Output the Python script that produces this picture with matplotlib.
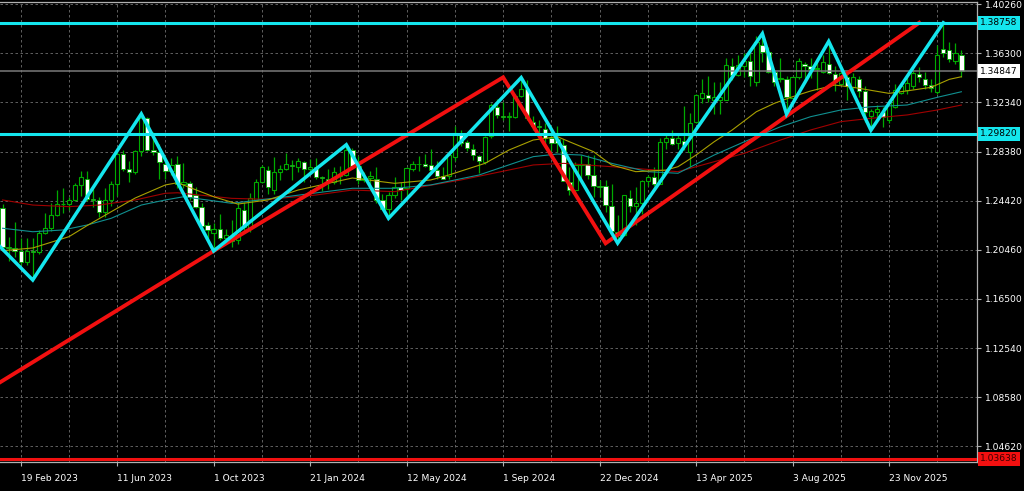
import numpy as np
import matplotlib
matplotlib.use("Agg")
import matplotlib.pyplot as plt

# weekly GBPUSD candles, 29 Jan 2023 .. 15 Feb 2026
opens = [1.2382, 1.2068, 1.2058, 1.2040, 1.1947, 1.2035, 1.2030, 1.2180, 1.2220, 1.2330,
         1.2415, 1.2418, 1.2450, 1.2570, 1.2620, 1.2455, 1.2445, 1.2350, 1.2445, 1.2580,
         1.2815, 1.2700, 1.2670, 1.2840, 1.3110, 1.2850, 1.2835, 1.2740, 1.2685, 1.2740,
         1.2578, 1.2585, 1.2490, 1.2390, 1.2246, 1.2180, 1.2210, 1.2140, 1.2160, 1.2125,
         1.2370, 1.2220, 1.2450, 1.2590, 1.2690, 1.2530, 1.2670, 1.2700, 1.2730, 1.2710,
         1.2750, 1.2700, 1.2710, 1.2635, 1.2620, 1.2595, 1.2640, 1.2650, 1.2850, 1.2720,
         1.2610, 1.2625, 1.2620, 1.2450, 1.2376, 1.2490, 1.2550, 1.2545, 1.2700, 1.2740,
         1.2740, 1.2730, 1.2690, 1.2640, 1.2640, 1.2794, 1.2980, 1.2915, 1.2858, 1.2803,
         1.2757, 1.2960, 1.3200, 1.3125, 1.3119, 1.3119, 1.3288, 1.3339, 1.3078, 1.3046,
         1.3017, 1.2950, 1.2940, 1.2893, 1.2595, 1.2530, 1.2728, 1.2737, 1.2649, 1.2563,
         1.2563, 1.2402, 1.2192, 1.2165, 1.2466, 1.2402, 1.2420, 1.2604, 1.2630, 1.2580,
         1.2918, 1.2947, 1.2910, 1.2925, 1.2837, 1.3078, 1.3270, 1.3290, 1.3250, 1.3255,
         1.3253, 1.3525, 1.3458, 1.3525, 1.3566, 1.3400, 1.3697, 1.3643, 1.3482, 1.3420,
         1.3420, 1.3267, 1.3441, 1.3540, 1.3525, 1.3501, 1.3482, 1.3544, 1.3460, 1.3386,
         1.3438, 1.3358, 1.3424, 1.3323, 1.3125, 1.3155, 1.3158, 1.3092, 1.3199, 1.3312,
         1.3334, 1.3366, 1.3460, 1.3425, 1.3371, 1.3318, 1.3661, 1.3656, 1.3567, 1.3613]
highs = [1.2418, 1.2150, 1.2270, 1.2145, 1.2140, 1.2145, 1.2205, 1.2343, 1.2424, 1.2525,
         1.2545, 1.2475, 1.2585, 1.2680, 1.2680, 1.2540, 1.2470, 1.2545, 1.2600, 1.2848,
         1.2848, 1.2760, 1.2850, 1.3142, 1.3120, 1.2995, 1.2895, 1.2800, 1.2790, 1.2800,
         1.2745, 1.2600, 1.2550, 1.2425, 1.2270, 1.2260, 1.2337, 1.2215, 1.2290, 1.2430,
         1.2430, 1.2505, 1.2615, 1.2733, 1.2720, 1.2793, 1.2730, 1.2827, 1.2770, 1.2785,
         1.2765, 1.2775, 1.2785, 1.2645, 1.2700, 1.2710, 1.2720, 1.2893, 1.2865, 1.2805,
         1.2670, 1.2680, 1.2710, 1.2500, 1.2510, 1.2635, 1.2595, 1.2710, 1.2760, 1.2800,
         1.2818, 1.2860, 1.2760, 1.2710, 1.2820, 1.3045, 1.3010, 1.2935, 1.2900, 1.2810,
         1.2960, 1.3230, 1.3265, 1.3240, 1.3160, 1.3300, 1.3434, 1.3415, 1.3125, 1.3095,
         1.3070, 1.3045, 1.3045, 1.2940, 1.2715, 1.2750, 1.2810, 1.2810, 1.2810, 1.2605,
         1.2605, 1.2575, 1.2325, 1.2490, 1.2525, 1.2550, 1.2610, 1.2650, 1.2715, 1.2945,
         1.2990, 1.3015, 1.2990, 1.3205, 1.3150, 1.3300, 1.3425, 1.3445, 1.3400, 1.3400,
         1.3595, 1.3595, 1.3615, 1.3630, 1.3630, 1.3770, 1.3789, 1.3680, 1.3495, 1.3590,
         1.3450, 1.3445, 1.3595, 1.3560, 1.3595, 1.3595, 1.3615, 1.3726, 1.3525, 1.3490,
         1.3470, 1.3470, 1.3445, 1.3370, 1.3180, 1.3215, 1.3200, 1.3265, 1.3385, 1.3400,
         1.3455, 1.3500, 1.3520, 1.3480, 1.3420, 1.3700, 1.38758, 1.3723, 1.3713, 1.3660]
lows = [1.2050, 1.1960, 1.1990, 1.1925, 1.1920, 1.1803, 1.2010, 1.2170, 1.2200, 1.2320,
        1.2345, 1.2365, 1.2440, 1.2480, 1.2440, 1.2390, 1.2310, 1.2310, 1.2400, 1.2480,
        1.2680, 1.2590, 1.2660, 1.2800, 1.2840, 1.2810, 1.2620, 1.2615, 1.2650, 1.2548,
        1.2545, 1.2445, 1.2380, 1.2230, 1.2110, 1.2037, 1.2125, 1.2090, 1.2070, 1.2095,
        1.2185, 1.2190, 1.2440, 1.2585, 1.2500, 1.2500, 1.2610, 1.2690, 1.2610, 1.2675,
        1.2595, 1.2665, 1.2620, 1.2520, 1.2535, 1.2575, 1.2580, 1.2640, 1.2700, 1.2575,
        1.2590, 1.2540, 1.2425, 1.2370, 1.2300, 1.2465, 1.2445, 1.2465, 1.2680, 1.2680,
        1.2710, 1.2660, 1.2620, 1.2615, 1.2615, 1.2760, 1.2880, 1.2845, 1.2770, 1.2665,
        1.2740, 1.2950, 1.3105, 1.3090, 1.3000, 1.3110, 1.3280, 1.3090, 1.3010, 1.2975,
        1.2910, 1.2845, 1.2835, 1.2600, 1.2485, 1.2500, 1.2610, 1.2620, 1.2475, 1.2475,
        1.2350, 1.2190, 1.2100, 1.2160, 1.2350, 1.2250, 1.2335, 1.2560, 1.2560, 1.2575,
        1.2860, 1.2890, 1.2860, 1.2850, 1.2710, 1.3070, 1.3230, 1.3240, 1.3140, 1.3140,
        1.3250, 1.3415, 1.3445, 1.3440, 1.3370, 1.3370, 1.3560, 1.3470, 1.3365, 1.3400,
        1.3140, 1.3265, 1.3420, 1.3390, 1.3430, 1.3335, 1.3470, 1.3460, 1.3325, 1.3380,
        1.3250, 1.3320, 1.3275, 1.3080, 1.3010, 1.3090, 1.3035, 1.3065, 1.3190, 1.3300,
        1.3300, 1.3340, 1.3400, 1.3340, 1.3320, 1.3300, 1.3600, 1.3560, 1.3540, 1.3440]
closes = [1.2068, 1.2058, 1.2040, 1.1947, 1.2035, 1.2030, 1.2180, 1.2220, 1.2330, 1.2415,
          1.2418, 1.2450, 1.2570, 1.2630, 1.2455, 1.2445, 1.2350, 1.2445, 1.2580, 1.2815,
          1.2700, 1.2670, 1.2840, 1.3110, 1.2850, 1.2835, 1.2753, 1.2685, 1.2730, 1.2578,
          1.2590, 1.2470, 1.2390, 1.2240, 1.2206, 1.2210, 1.2145, 1.2165, 1.2120, 1.2380,
          1.2230, 1.2460, 1.2590, 1.2710, 1.2550, 1.2670, 1.2700, 1.2740, 1.2720, 1.2760,
          1.2700, 1.2710, 1.2635, 1.2625, 1.2595, 1.2670, 1.2660, 1.2850, 1.2720, 1.2610,
          1.2625, 1.2640, 1.2450, 1.2376, 1.2490, 1.2550, 1.2530, 1.2705, 1.2740, 1.2735,
          1.2725, 1.2690, 1.2640, 1.2620, 1.2810, 1.2987, 1.2910, 1.2870, 1.2810, 1.2763,
          1.2955, 1.3210, 1.3133, 1.3119, 1.3120, 1.3288, 1.3339, 1.3111, 1.3046, 1.3035,
          1.2944, 1.2910, 1.2910, 1.2603, 1.2530, 1.2728, 1.2740, 1.2649, 1.2560, 1.2550,
          1.2410, 1.2200, 1.2165, 1.2488, 1.2402, 1.2420, 1.2604, 1.2630, 1.2580, 1.2918,
          1.2947, 1.2900, 1.2947, 1.2890, 1.3068, 1.3293, 1.3310, 1.3270, 1.3280, 1.3275,
          1.3536, 1.3458, 1.3534, 1.3566, 1.3445, 1.3723, 1.3643, 1.3482, 1.3401, 1.3430,
          1.3275, 1.3441, 1.3566, 1.3525, 1.3501, 1.3515, 1.3562, 1.3468, 1.3399, 1.3471,
          1.3366, 1.3438, 1.3323, 1.3158, 1.3165, 1.3180, 1.3118, 1.3227, 1.3334, 1.3366,
          1.3390, 1.3473, 1.3441, 1.3371, 1.3352, 1.3613, 1.3634, 1.3586, 1.3629, 1.34847]

# moving averages (bar index, price)
ma_fast_x = [0, 5, 11, 14, 18, 22, 27, 29, 35, 39, 44, 49, 58, 65, 71, 74, 80, 84, 88, 92,
             94, 98, 101, 105, 110, 112, 115, 118, 121, 125, 128, 131, 134, 138, 141, 147,
             151, 154, 157, 159]
ma_fast_y = [1.2039, 1.2061, 1.2152, 1.2241, 1.2353, 1.2464, 1.2569, 1.2587, 1.2474, 1.2415,
             1.2448, 1.2528, 1.2625, 1.2582, 1.2609, 1.2649, 1.2743, 1.2851, 1.2931, 1.2958,
             1.2917, 1.2837, 1.2730, 1.2676, 1.2689, 1.2716, 1.2810, 1.2917, 1.3012, 1.3159,
             1.3227, 1.3280, 1.3326, 1.3374, 1.3356, 1.3307, 1.3334, 1.3356, 1.3420, 1.3441]
ma_mid_x = [0, 5, 10, 14, 18, 23, 27, 30, 38, 47, 58, 65, 71, 79, 88, 92, 96, 101, 107,
            112, 118, 123, 129, 134, 139, 144, 150, 155, 159]
ma_mid_y = [1.2220, 1.2192, 1.2206, 1.2246, 1.2300, 1.2407, 1.2448, 1.2474, 1.2421, 1.2474,
            1.2542, 1.2542, 1.2569, 1.2649, 1.2797, 1.2818, 1.2810, 1.2743, 1.2676, 1.2663,
            1.2810, 1.2917, 1.3038, 1.3119, 1.3173, 1.3199, 1.3213, 1.3275, 1.3320]
ma_slow_x = [0, 5, 11, 16, 22, 27, 29, 38, 44, 52, 58, 65, 76, 88, 93, 101, 112, 118, 123,
             129, 134, 139, 144, 150, 155, 159]
ma_slow_y = [1.2448, 1.2407, 1.2394, 1.2407, 1.2448, 1.2502, 1.2506, 1.2461, 1.2453, 1.2488,
             1.2528, 1.2515, 1.2609, 1.2730, 1.2743, 1.2716, 1.2676, 1.2756, 1.2824, 1.2931,
             1.3012, 1.3079, 1.3106, 1.3133, 1.3173, 1.3213]

# zigzag pivots
zz_cyan_x = [-8, 5, 23, 35, 57, 64, 86, 102, 126, 130, 137, 144, 156]
zz_cyan_y = [1.2447, 1.1803, 1.3142, 1.2037, 1.2893, 1.2300, 1.3434, 1.2100, 1.3789,
             1.3140, 1.3726, 1.3010, 1.38758]
zz_red_x = [-21, 35, 83, 100, 152]
zz_red_y = [1.03638, 1.2037, 1.3436, 1.2099, 1.38758]

levels_cyan = [1.38758, 1.29820]
level_red = 1.03638
last_price = 1.34847

price_ticks = [1.04620, 1.08580, 1.12540, 1.16500, 1.20460, 1.24420, 1.28380,
               1.32340, 1.36300, 1.40260]
date_ticks = [3, 19, 35, 51, 67, 83, 99, 115, 131, 147]
date_labels = ["19 Feb 2023", "11 Jun 2023", "1 Oct 2023", "21 Jan 2024", "12 May 2024",
               "1 Sep 2024", "22 Dec 2024", "13 Apr 2025", "3 Aug 2025", "23 Nov 2025"]

CYAN = "#14e6ee"
RED = "#f21010"
GREEN = "#00aa00"

fig = plt.figure(figsize=(10.24, 4.91), dpi=100, facecolor="black")
ax = fig.add_axes([0.0, 0.0597, 0.9538, 0.9368], facecolor="black")

o = np.array(opens); h = np.array(highs); l = np.array(lows); c = np.array(closes)
x = np.arange(len(o))
bull = c >= o

# grid
for gx in range(3, 160, 8):
    ax.axvline(gx, color="#6e6e6e", lw=0.6, ls=(0, (3, 3)), zorder=0)
for gy in price_ticks:
    ax.axhline(gy, color="#6e6e6e", lw=0.6, ls=(0, (3, 3)), zorder=0)

# candles
ax.vlines(x, l, h, color=GREEN, lw=0.9, zorder=2)
body = np.maximum(np.abs(c - o), 0.0003)
ax.bar(x[bull], body[bull], bottom=np.minimum(o, c)[bull], width=0.72,
       color="black", edgecolor=GREEN, linewidth=0.8, zorder=3)
ax.bar(x[~bull], body[~bull], bottom=np.minimum(o, c)[~bull], width=0.72,
       color="white", edgecolor=GREEN, linewidth=0.6, zorder=3)

# moving averages
ax.plot(ma_slow_x, ma_slow_y, color="#a00000", lw=0.8, zorder=4)
ax.plot(ma_mid_x, ma_mid_y, color="#109090", lw=0.8, zorder=4)
ax.plot(ma_fast_x, ma_fast_y, color="#a8a000", lw=0.8, zorder=4)

# current price line
ax.axhline(last_price, color="#7a7a7a", lw=1.1, zorder=4)

# zigzags
ax.plot(zz_red_x, zz_red_y, color=RED, lw=2.8, zorder=5, solid_joinstyle="miter")
ax.plot(zz_cyan_x, zz_cyan_y, color=CYAN, lw=2.5, zorder=6, solid_joinstyle="miter")

# levels
for lv in levels_cyan:
    ax.axhline(lv, color=CYAN, lw=2.2, zorder=7)
ax.axhline(level_red, color=RED, lw=2.2, zorder=7)

ax.set_xlim(-0.43, 161.54)
ax.set_ylim(1.03389, 1.40455)

ax.spines["left"].set_visible(False)
for s in ["right", "bottom", "top"]:
    ax.spines[s].set_color("#b0b0b0")
    ax.spines[s].set_linewidth(0.9)

ax.yaxis.tick_right()
ax.set_yticks(price_ticks)
ax.set_yticklabels(["%.5f" % v for v in price_ticks])
ax.set_xticks(date_ticks)
ax.set_xticklabels(date_labels, ha="left")
ax.tick_params(axis="both", colors="#b0b0b0", labelcolor="white", labelsize=6.6,
               length=3, width=0.8)
ax.tick_params(axis="y", pad=3)
ax.tick_params(axis="x", pad=6)

# price tags on the right
tr = ax.get_yaxis_transform()
tags = [(levels_cyan[0], CYAN, "black"), (levels_cyan[1], CYAN, "black"),
        (last_price, "white", "black"), (level_red, RED, "#3a0000")]
for val, bg, fg in tags:
    ax.text(1.0035, val, "%.5f" % val, transform=tr, va="center", ha="left",
            fontsize=6.6, color=fg, clip_on=False, zorder=10,
            bbox=dict(boxstyle="square,pad=0.28", fc=bg, ec="none"))

fig.savefig("out.png", dpi=100, facecolor="black")
